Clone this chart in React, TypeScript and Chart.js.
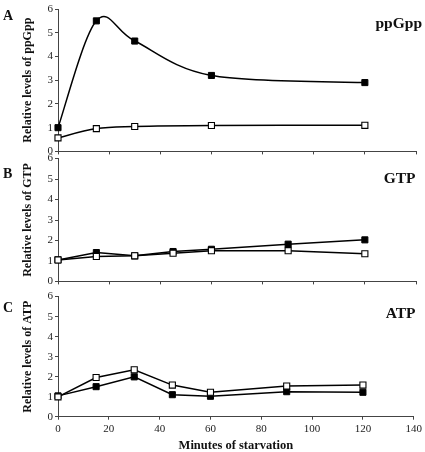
import React, { useEffect, useRef } from "react";
import { Chart, registerables } from "chart.js";
Chart.register(...registerables);

// ---- data ----
const minutesA = [0, 15, 30, 60, 120];
const ppGppFilled = [1.0, 5.5, 4.65, 3.2, 2.9];
const ppGppOpen = [0.57, 0.96, 1.05, 1.09, 1.1];

const minutesBC = [0, 15, 30, 45, 60, 90, 120];
const gtpFilled = [1.05, 1.41, 1.25, 1.46, 1.57, 1.82, 2.03];
const gtpOpen = [1.05, 1.22, 1.25, 1.38, 1.5, 1.5, 1.35];
const atpFilled = [1.04, 1.5, 1.99, 1.1, 1.02, 1.25, 1.22];
const atpOpen = [0.99, 1.96, 2.34, 1.58, 1.22, 1.53, 1.58];

const yMin = 0;
const yMax = 6;
const yStep = 1;
const xMin = 0;
const xMax = 140;
const xStep = 20;

const panelLetters = ["A", "B", "C"];
const panelLabels = ["ppGpp", "GTP", "ATP"];
const yTitles = ["Relative levels of ppGpp", "Relative levels of GTP", "Relative levels of ATP"];
const xTitle = "Minutes of starvation";

const SERIF = '"Liberation Serif", "Times New Roman", serif';

type PanelProps = {
  top: number;
  height: number;
  padTop: number;
  xHeight: number;
  letter: string;
  letterBase: number;
  label: string;
  labelRight: number;
  labelBase: number;
  yTitle: string;
  minutes: number[];
  filled: number[];
  open: number[];
  smooth: boolean;
  showX: boolean;
};

function toXY(xs: number[], ys: number[]) {
  return xs.map((x, i) => ({ x, y: ys[i] }));
}

// Excel-like (Catmull-Rom, 1/6) smoothing applied to the points Chart.js has laid out on its scales
const excelSmoothPlugin = {
  id: "excelSmooth",
  beforeDatasetDraw(chart: any, args: any) {
    const meta = args.meta;
    const line = meta.dataset;
    const pts = meta.data;
    if (!line || !pts || pts.length < 2) return;
    const n = pts.length;
    for (let i = 0; i < n; i++) {
      const p = pts[i];
      const prev = pts[Math.max(0, i - 1)];
      const next = pts[Math.min(n - 1, i + 1)];
      const dx = (next.x - prev.x) / 6;
      const dy = (next.y - prev.y) / 6;
      p.cp1x = p.x - dx;
      p.cp1y = p.y - dy;
      p.cp2x = p.x + dx;
      p.cp2y = p.y + dy;
    }
    line._pointsUpdated = true;
    line._path = undefined;
  },
};

function Panel(p: PanelProps) {
  const ref = useRef<HTMLCanvasElement | null>(null);
  useEffect(() => {
    if (!ref.current) return;
    const textPlugin = {
      id: "panelText",
      afterDraw(chart: any) {
        const ctx = chart.ctx;
        ctx.save();
        ctx.fillStyle = "#111";
        ctx.textBaseline = "alphabetic";
        ctx.font = `bold 14px ${SERIF}`;
        ctx.textAlign = "left";
        ctx.fillText(p.letter, 3, p.letterBase - p.top);
        ctx.font = `bold 15.5px ${SERIF}`;
        ctx.textAlign = "right";
        ctx.fillText(p.label, p.labelRight, p.labelBase - p.top);
        ctx.restore();
      },
    };
    const tension = p.smooth ? 0.4 : 0;
    const common = {
      borderColor: "#000",
      borderWidth: 1.5,
      pointStyle: "rect",
      pointRadius: 4.3,
      pointBorderColor: "#000",
      tension,
      clip: false as any,
    };
    const plugins: any[] = [textPlugin];
    if (p.smooth) plugins.push(excelSmoothPlugin);
    const chart = new Chart(ref.current, {
      type: "line",
      data: {
        datasets: [
          {
            ...common,
            data: toXY(p.minutes, p.open),
            backgroundColor: "#fff",
            pointBorderWidth: 1.1,
            pointBackgroundColor: "#fff",
          },
          {
            ...common,
            data: toXY(p.minutes, p.filled),
            backgroundColor: "#000",
            pointBorderWidth: 1,
            pointBackgroundColor: "#000",
          },
        ],
      },
      options: {
        animation: false,
        responsive: false,
        events: [],
        layout: { padding: { top: p.padTop, right: 9, left: 0, bottom: 0 } },
        plugins: { legend: { display: false }, tooltip: { enabled: false } },
        scales: {
          x: {
            type: "linear",
            min: xMin,
            max: xMax,
            ticks: {
              stepSize: xStep,
              display: p.showX,
              color: "#222",
              padding: 3,
              font: { family: SERIF, size: 11 },
              maxRotation: 0,
            },
            grid: { drawOnChartArea: false, tickLength: 3, color: "#444" },
            border: { display: true, color: "#444", width: 1 },
            title: {
              display: p.showX,
              text: xTitle,
              color: "#111",
              font: { family: SERIF, size: 12.5, weight: "bold", lineHeight: 1 },
              padding: { top: 0, bottom: 0 },
            },
            afterFit(scale: any) {
              scale.height = p.xHeight;
            },
          },
          y: {
            min: yMin,
            max: yMax,
            ticks: {
              stepSize: yStep,
              color: "#222",
              padding: 2,
              font: { family: SERIF, size: 11 },
            },
            grid: { drawOnChartArea: false, tickLength: 3, color: "#444" },
            border: { display: true, color: "#444", width: 1 },
            title: {
              display: true,
              text: p.yTitle,
              color: "#111",
              font: { family: SERIF, size: 12, weight: "bold" },
              padding: { top: 21, bottom: 0 },
            },
            afterFit(scale: any) {
              scale.width = 58;
            },
          },
        },
      } as any,
      plugins,
    });
    return () => chart.destroy();
  }, []);
  return (
    <canvas
      ref={ref}
      width={425}
      height={p.height}
      style={{ position: "absolute", left: 0, top: p.top, width: 425, height: p.height }}
    />
  );
}

export default function App() {
  return (
    <div
      style={{
        position: "absolute",
        left: 0,
        top: 0,
        width: 425,
        height: 452,
        overflow: "hidden",
        background: "#fff",
      }}
    >
      <Panel
        top={0}
        height={160}
        padTop={9}
        xHeight={8}
        letter={panelLetters[0]}
        letterBase={20}
        label={panelLabels[0]}
        labelRight={422}
        labelBase={27.5}
        yTitle={yTitles[0]}
        minutes={minutesA}
        filled={ppGppFilled}
        open={ppGppOpen}
        smooth={true}
        showX={false}
      />
      <Panel
        top={150}
        height={140}
        padTop={8.3}
        xHeight={4}
        letter={panelLetters[1]}
        letterBase={177.7}
        label={panelLabels[1]}
        labelRight={415.5}
        labelBase={182.7}
        yTitle={yTitles[1]}
        minutes={minutesBC}
        filled={gtpFilled}
        open={gtpOpen}
        smooth={false}
        showX={false}
      />
      <Panel
        top={288}
        height={164}
        padTop={7}
        xHeight={35.3}
        letter={panelLetters[2]}
        letterBase={311.7}
        label={panelLabels[2]}
        labelRight={415.5}
        labelBase={318}
        yTitle={yTitles[2]}
        minutes={minutesBC}
        filled={atpFilled}
        open={atpOpen}
        smooth={false}
        showX={true}
      />
    </div>
  );
}
